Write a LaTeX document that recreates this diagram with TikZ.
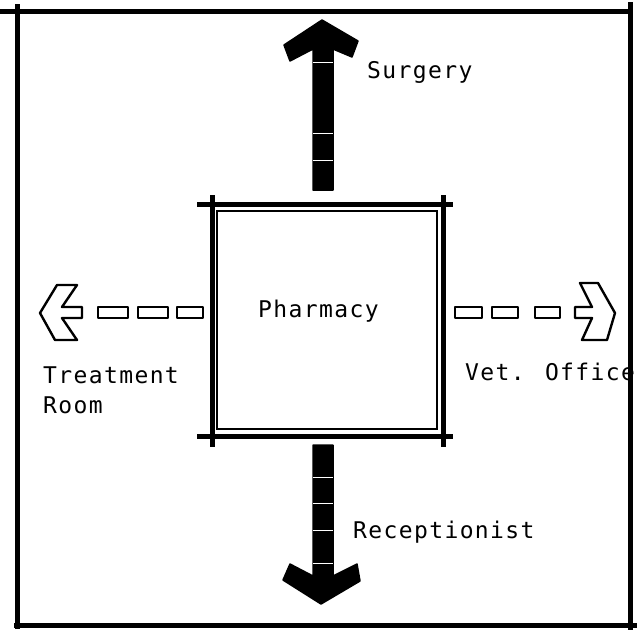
\documentclass[tikz,border=0pt]{standalone}
\usepackage{fontspec}
\newfontfamily\roomfont{DejaVu Sans Mono}[LetterSpace=6]
\tikzset{
  wall/.style={line width=5pt},
  innerwall/.style={line width=2pt},
  solidarrow/.style={fill=black, draw=black, line width=1.5pt, line join=round},
  hollowarrow/.style={draw=black, fill=white, line width=2.4pt, line join=round},
  gapline/.style={white, line width=1pt},
  roomlabel/.style={font=\roomfont\fontsize{23}{30}\selectfont, anchor=base west, inner sep=0pt}
}
\begin{document}
\begin{tikzpicture}[x=1pt, y=-1pt]
  \useasboundingbox (0,0) rectangle (639,630);
  % labels
  \node[roomlabel] (pharmacy) at (258,317) {Pharmacy};
  \node[roomlabel] (surgery) at (367,78) {Surgery};
  \node[roomlabel] (treatment) at (43,383) {Treatment};
  \node[roomlabel] (room) at (43,413) {Room};
  \node[roomlabel] (vetoffice) at (465,380) {Vet. Office};
  \node[roomlabel] (receptionist) at (353,538) {Receptionist};
  % pharmacy walls
  \draw[innerwall] (217,211) rectangle (437,429);
  \draw[wall] (197,204) -- (453,204);
  \draw[wall] (197,436) -- (453,436);
  \draw[wall] (212,195) -- (212,447);
  \draw[wall] (443,195) -- (443,447);
  % to surgery
  \fill[solidarrow] (313,190) -- (313,49) -- (290,61) -- (284,45) -- (322,20)
    -- (358,41) -- (352,57) -- (333,49) -- (333,190) -- cycle;
  \foreach \y in {62,133,160}
    \draw[gapline] (313,\y) -- (333,\y);
  % to receptionist
  \fill[solidarrow] (313,445) -- (313,576) -- (290,564) -- (283,580) -- (321,604)
    -- (360,581) -- (357,564) -- (333,576) -- (333,445) -- cycle;
  \foreach \y in {477,503,530,563}
    \draw[gapline] (313,\y) -- (333,\y);
  % to treatment room
  \foreach \x/\w in {98/30,138/30,177/26}
    \draw[hollowarrow] (\x,307) rectangle ++(\w,11);
  \draw[hollowarrow] (40,313) -- (57,285) -- (77,285) -- (62,307) -- (82,307)
    -- (82,318) -- (62,318) -- (77,340) -- (55,340) -- cycle;
  % to vet. office
  \foreach \x/\w in {455/27,492/26,535/25}
    \draw[hollowarrow] (\x,307) rectangle ++(\w,11);
  \draw[hollowarrow] (615,313) -- (598,283) -- (580,283) -- (592,307) -- (575,307)
    -- (575,318) -- (592,318) -- (582,340) -- (607,340) -- cycle;
  % outer frame
  \draw[wall] (0,11) -- (633,11);
  \draw[wall] (17,4) -- (17,629);
  \draw[wall] (630,2) -- (630,630);
  \draw[wall] (14,625) -- (637,625);
\end{tikzpicture}
\end{document}
